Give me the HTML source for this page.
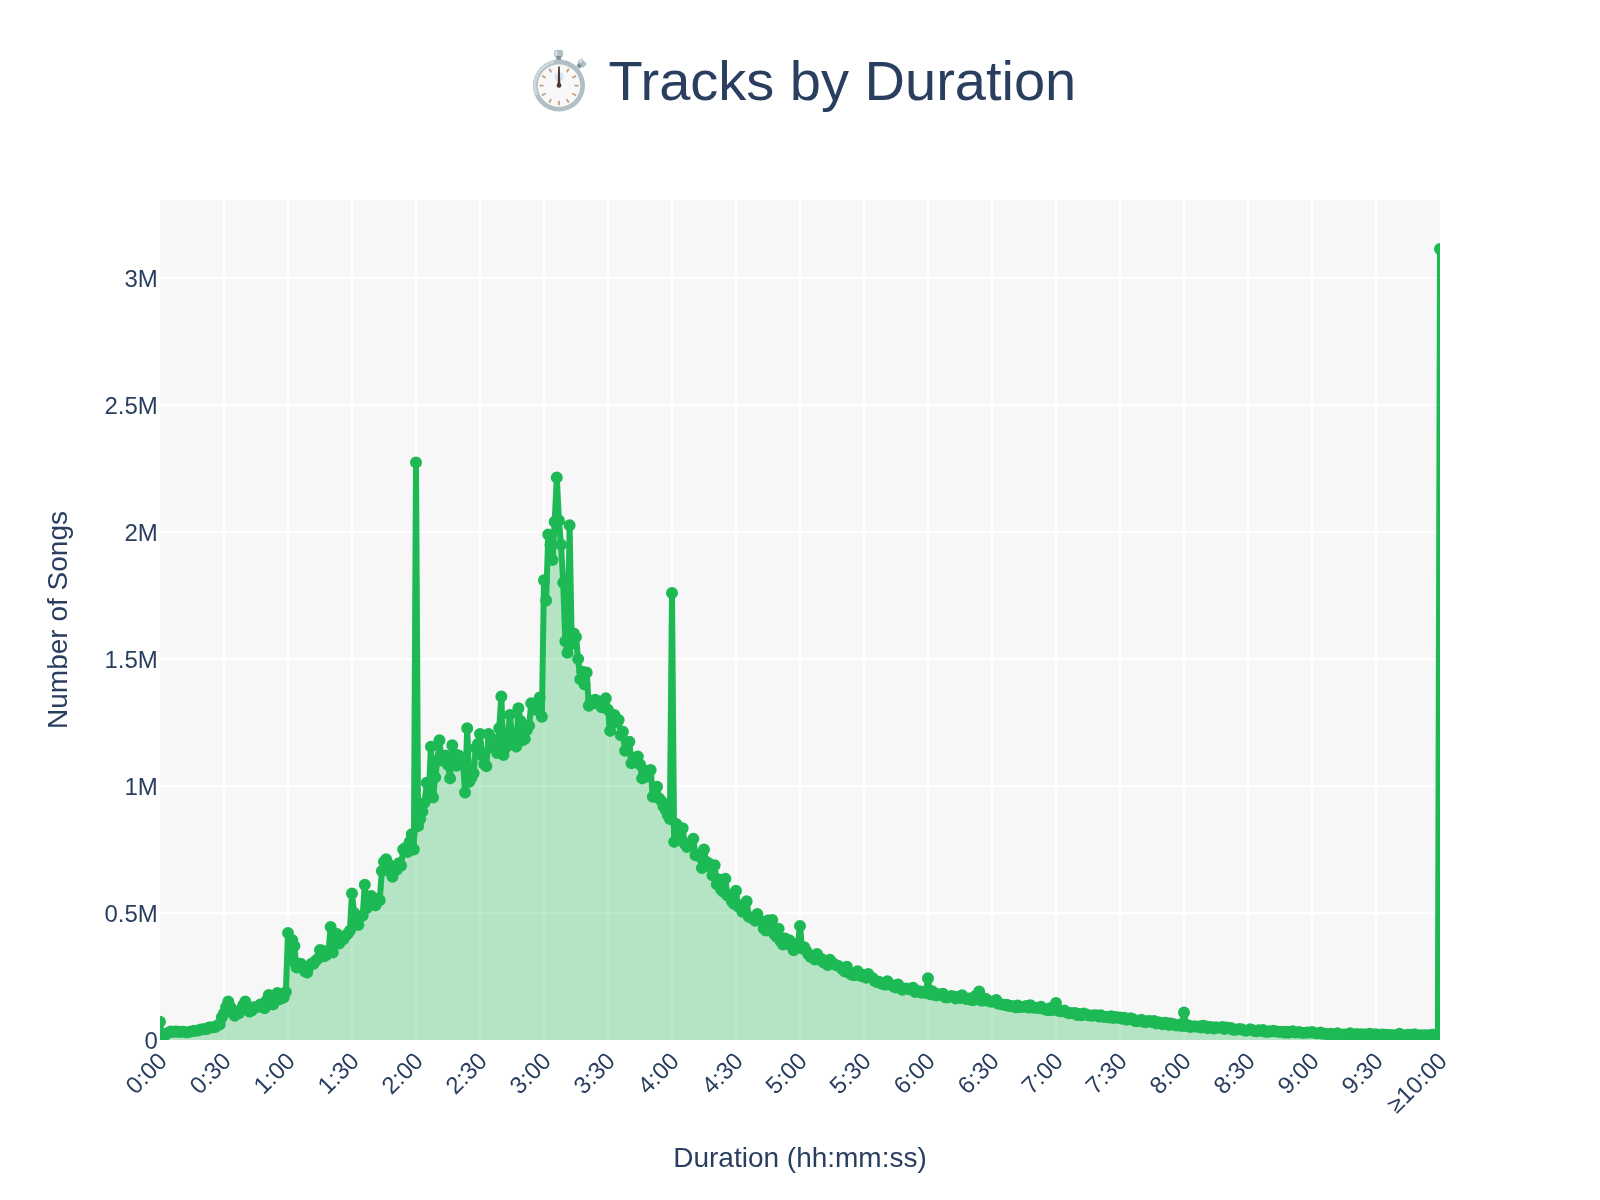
<!DOCTYPE html>
<html><head><meta charset="utf-8"><style>
html,body{margin:0;padding:0;background:#fff;}
svg{display:block;will-change:transform;}
text{font-family:"Liberation Sans", sans-serif;fill:#2a3f5f;}
.t{font-size:24px;}
.a{font-size:28px;}
.ti{font-size:56px;}
</style></head><body>
<svg width="1600" height="1200" viewBox="0 0 1600 1200">
<rect x="0" y="0" width="1600" height="1200" fill="#fff"/>
<rect x="160" y="200" width="1280" height="840" fill="#f7f7f7"/>
<path d="M224.0,200V1040M288.0,200V1040M352.0,200V1040M416.0,200V1040M480.0,200V1040M544.0,200V1040M608.0,200V1040M672.0,200V1040M736.0,200V1040M800.0,200V1040M864.0,200V1040M928.0,200V1040M992.0,200V1040M1056.0,200V1040M1120.0,200V1040M1184.0,200V1040M1248.0,200V1040M1312.0,200V1040M1376.0,200V1040M160,913.0H1440M160,786.0H1440M160,659.0H1440M160,532.0H1440M160,405.0H1440M160,278.0H1440" stroke="#fff" stroke-width="2" fill="none"/>
<defs><clipPath id="pc"><rect x="160" y="200" width="1280" height="840"/></clipPath></defs>
<g clip-path="url(#pc)">
<path d="M160.00,1021.71L162.13,1038.48L164.27,1035.94L166.40,1033.90L168.53,1032.39L170.67,1031.62L172.80,1032.09L174.93,1031.61L177.07,1031.59L179.20,1031.99L181.33,1031.87L183.47,1031.71L185.60,1032.25L187.73,1032.16L189.87,1031.87L192.00,1031.36L194.13,1030.70L196.27,1030.66L198.40,1030.44L200.53,1029.60L202.67,1029.33L204.80,1029.01L206.93,1028.89L209.07,1027.55L211.20,1027.31L213.33,1027.30L215.47,1027.02L217.60,1025.25L219.73,1024.51L221.87,1017.14L224.00,1013.33L226.13,1006.98L228.27,1001.39L230.40,1006.98L232.53,1011.36L234.67,1015.87L236.80,1013.65L238.93,1013.33L241.07,1009.52L243.20,1004.87L245.33,1001.39L247.47,1007.49L249.60,1011.55L251.73,1010.57L253.87,1007.28L256.00,1006.98L258.13,1006.68L260.27,1004.44L262.40,1006.55L264.53,1008.25L266.67,1000.56L268.80,995.04L270.93,1001.90L273.07,1004.44L275.20,999.61L277.33,993.01L279.47,999.36L281.60,998.50L283.73,997.58L285.87,991.99L288.00,933.07L290.13,959.99L292.27,939.92L294.40,946.02L296.53,967.61L298.67,963.67L300.80,963.80L302.93,966.75L305.07,971.42L307.20,972.44L309.33,966.34L311.47,963.63L313.60,963.80L315.73,960.83L317.87,958.72L320.00,950.08L322.13,950.55L324.27,956.18L326.40,954.91L328.53,951.10L330.67,926.97L332.80,952.62L334.93,941.57L337.07,934.08L339.20,943.48L341.33,939.52L343.47,939.16L345.60,935.76L347.73,933.83L349.87,930.78L352.00,893.44L354.13,913.00L356.27,919.37L358.40,924.94L360.53,917.13L362.67,915.54L364.80,884.81L366.93,907.92L369.07,897.88L371.20,895.98L373.33,897.82L375.47,905.38L377.60,901.34L379.73,900.30L381.87,871.09L384.00,861.74L386.13,859.15L388.27,863.91L390.40,872.36L392.53,876.68L394.67,869.83L396.80,869.82L398.93,863.28L401.07,865.76L403.20,849.50L405.33,847.93L407.47,852.04L409.60,841.88L411.73,834.26L413.87,849.50L416.00,462.40L418.13,826.13L420.27,819.02L422.40,811.40L424.53,802.76L426.67,782.70L428.80,793.62L430.93,746.63L433.07,797.43L435.20,777.36L437.33,760.60L439.47,740.28L441.60,760.60L443.73,760.03L445.87,755.52L448.00,765.06L450.13,778.38L452.27,745.36L454.40,753.98L456.53,765.68L458.67,755.52L460.80,762.43L462.93,760.60L465.07,792.60L467.20,728.34L469.33,781.68L471.47,777.84L473.60,773.30L475.73,747.90L477.87,743.95L480.00,733.93L482.13,755.52L484.27,764.36L486.40,766.19L488.53,733.93L490.67,737.53L492.80,747.90L494.93,747.99L497.07,752.98L499.20,728.18L501.33,696.59L503.47,755.01L505.60,747.41L507.73,735.20L509.87,714.88L512.00,735.20L514.13,741.91L516.27,746.63L518.40,708.28L520.53,720.88L522.67,740.28L524.80,739.04L526.93,730.12L529.07,725.80L531.20,703.20L533.33,704.89L535.47,709.80L537.60,703.25L539.73,697.61L541.87,716.66L544.00,580.26L546.13,600.58L548.27,534.54L550.40,544.70L552.53,559.94L554.67,521.84L556.80,477.39L558.93,520.57L561.07,544.70L563.20,582.80L565.33,641.22L567.47,652.65L569.60,525.14L571.73,643.76L573.87,633.60L576.00,636.90L578.13,659.00L580.27,679.32L582.40,671.70L584.53,684.40L586.67,672.46L588.80,705.74L590.93,700.96L593.07,703.20L595.20,699.77L597.33,702.18L599.47,701.39L601.60,707.26L603.73,704.84L605.87,698.37L608.00,709.80L610.13,730.88L612.27,723.66L614.40,714.88L616.53,718.71L618.67,719.96L620.80,735.20L622.93,731.64L625.07,750.69L627.20,742.74L629.33,741.80L631.47,763.14L633.60,757.68L635.73,760.60L637.87,756.54L640.00,764.49L642.13,778.38L644.27,777.53L646.40,770.76L648.53,772.83L650.67,770.00L652.80,796.67L654.93,794.15L657.07,786.76L659.20,798.45L661.33,800.94L663.47,806.32L665.60,809.82L667.73,814.96L669.87,819.02L672.00,592.96L674.13,841.88L676.27,824.10L678.40,826.64L680.53,839.62L682.67,828.25L684.80,843.99L686.93,846.96L689.07,845.85L691.20,842.40L693.33,838.77L695.47,855.18L697.60,855.52L699.73,856.57L701.87,868.04L704.00,849.43L706.13,861.63L708.27,862.95L710.40,866.78L712.53,875.26L714.67,865.18L716.80,884.29L718.93,879.46L721.07,889.58L723.20,891.88L725.33,878.81L727.47,895.39L729.60,895.26L731.73,900.95L733.87,903.67L736.00,890.78L738.13,906.61L740.27,905.65L742.40,911.69L744.53,904.26L746.67,901.31L748.80,916.70L750.93,917.73L753.07,918.88L755.20,920.84L757.33,914.10L759.47,920.30L761.60,921.12L763.73,928.42L765.87,930.40L768.00,920.55L770.13,928.85L772.27,920.11L774.40,934.19L776.53,936.78L778.67,928.68L780.80,941.42L782.93,944.48L785.07,938.58L787.20,944.05L789.33,940.23L791.47,946.04L793.60,950.33L795.73,946.49L797.87,943.93L800.00,925.95L802.13,948.56L804.27,947.19L806.40,951.09L808.53,954.40L810.67,956.99L812.80,957.30L814.93,959.56L817.07,953.96L819.20,959.28L821.33,958.83L823.47,962.51L825.60,962.53L827.73,964.95L829.87,959.67L832.00,962.47L834.13,964.08L836.27,965.22L838.40,966.04L840.53,967.33L842.67,969.39L844.80,971.47L846.93,966.82L849.07,972.34L851.20,974.58L853.33,975.30L855.47,974.92L857.60,971.18L859.73,974.68L861.87,976.25L864.00,975.11L866.13,977.85L868.27,974.00L870.40,977.21L872.53,978.07L874.67,980.92L876.80,982.12L878.93,981.83L881.07,983.44L883.20,984.22L885.33,984.87L887.47,981.14L889.60,984.12L891.73,985.03L893.87,986.78L896.00,987.42L898.13,984.51L900.27,987.44L902.40,989.72L904.53,988.64L906.67,988.41L908.80,989.14L910.93,989.63L913.07,987.74L915.20,991.90L917.33,991.49L919.47,991.13L921.60,992.67L923.73,991.86L925.87,993.01L928.00,978.28L930.13,994.28L932.27,991.32L934.40,995.11L936.53,995.38L938.67,994.27L940.80,995.12L942.93,993.68L945.07,997.20L947.20,997.42L949.33,996.82L951.47,996.05L953.60,996.55L955.73,998.48L957.87,997.01L960.00,998.09L962.13,995.26L964.27,998.01L966.40,998.95L968.53,998.60L970.67,999.82L972.80,1000.28L974.93,996.29L977.07,999.36L979.20,991.49L981.33,1000.63L983.47,1000.45L985.60,998.67L987.73,1000.14L989.87,1001.61L992.00,1001.65L994.13,1001.16L996.27,1000.02L998.40,1003.75L1000.53,1004.11L1002.67,1004.46L1004.80,1005.05L1006.93,1004.63L1009.07,1005.91L1011.20,1005.97L1013.33,1006.22L1015.47,1007.31L1017.60,1005.48L1019.73,1007.05L1021.87,1006.93L1024.00,1006.77L1026.13,1006.11L1028.27,1007.49L1030.40,1005.16L1032.53,1007.59L1034.67,1007.74L1036.80,1007.86L1038.93,1008.08L1041.07,1006.80L1043.20,1008.68L1045.33,1009.53L1047.47,1010.19L1049.60,1008.36L1051.73,1010.15L1053.87,1009.52L1056.00,1002.92L1058.13,1010.79L1060.27,1011.30L1062.40,1011.11L1064.53,1010.41L1066.67,1012.57L1068.80,1013.29L1070.93,1013.08L1073.07,1013.26L1075.20,1012.95L1077.33,1014.95L1079.47,1014.08L1081.60,1015.15L1083.73,1013.41L1085.87,1014.37L1088.00,1015.32L1090.13,1015.62L1092.27,1015.66L1094.40,1015.36L1096.53,1015.18L1098.67,1016.57L1100.80,1015.17L1102.93,1016.82L1105.07,1017.01L1107.20,1016.75L1109.33,1017.57L1111.47,1016.29L1113.60,1017.91L1115.73,1016.93L1117.87,1017.75L1120.00,1017.50L1122.13,1018.66L1124.27,1017.78L1126.40,1019.75L1128.53,1019.22L1130.67,1018.17L1132.80,1018.98L1134.93,1021.00L1137.07,1021.28L1139.20,1020.70L1141.33,1019.83L1143.47,1021.68L1145.60,1022.34L1147.73,1021.06L1149.87,1021.01L1152.00,1021.97L1154.13,1021.03L1156.27,1023.44L1158.40,1022.32L1160.53,1022.76L1162.67,1024.37L1164.80,1022.79L1166.93,1022.88L1169.07,1025.08L1171.20,1023.52L1173.33,1023.99L1175.47,1025.27L1177.60,1025.55L1179.73,1024.53L1181.87,1026.03L1184.00,1012.57L1186.13,1026.03L1188.27,1025.27L1190.40,1027.06L1192.53,1026.46L1194.67,1026.33L1196.80,1026.86L1198.93,1026.54L1201.07,1027.41L1203.20,1025.79L1205.33,1026.26L1207.47,1028.14L1209.60,1026.88L1211.73,1027.26L1213.87,1028.43L1216.00,1027.30L1218.13,1027.86L1220.27,1027.51L1222.40,1026.96L1224.53,1029.04L1226.67,1027.55L1228.80,1028.15L1230.93,1028.06L1233.07,1029.82L1235.20,1029.76L1237.33,1029.59L1239.47,1028.88L1241.60,1029.37L1243.73,1030.32L1245.87,1030.66L1248.00,1030.31L1250.13,1029.13L1252.27,1029.94L1254.40,1030.92L1256.53,1031.20L1258.67,1030.17L1260.80,1030.81L1262.93,1029.94L1265.07,1031.74L1267.20,1031.89L1269.33,1031.14L1271.47,1031.62L1273.60,1030.79L1275.73,1031.18L1277.87,1031.70L1280.00,1032.00L1282.13,1031.67L1284.27,1032.63L1286.40,1031.71L1288.53,1032.75L1290.67,1031.81L1292.80,1031.32L1294.93,1032.57L1297.07,1032.36L1299.20,1031.96L1301.33,1032.81L1303.47,1033.02L1305.60,1032.63L1307.73,1032.39L1309.87,1032.54L1312.00,1032.00L1314.13,1032.86L1316.27,1033.15L1318.40,1033.14L1320.53,1032.48L1322.67,1033.80L1324.80,1033.85L1326.93,1034.03L1329.07,1034.01L1331.20,1033.79L1333.33,1034.27L1335.47,1034.10L1337.60,1033.25L1339.73,1034.31L1341.87,1034.65L1344.00,1034.47L1346.13,1034.71L1348.27,1034.09L1350.40,1033.30L1352.53,1034.65L1354.67,1034.42L1356.80,1034.04L1358.93,1034.81L1361.07,1034.22L1363.20,1034.59L1365.33,1034.57L1367.47,1034.31L1369.60,1033.66L1371.73,1034.66L1373.87,1034.54L1376.00,1034.32L1378.13,1034.89L1380.27,1034.79L1382.40,1034.53L1384.53,1034.65L1386.67,1034.73L1388.80,1034.94L1390.93,1035.00L1393.07,1035.26L1395.20,1035.21L1397.33,1035.27L1399.47,1033.83L1401.60,1035.16L1403.73,1035.25L1405.87,1035.32L1408.00,1034.74L1410.13,1034.73L1412.27,1034.91L1414.40,1034.13L1416.53,1035.28L1418.67,1035.25L1420.80,1035.14L1422.93,1035.39L1425.07,1035.18L1427.20,1035.34L1429.33,1035.17L1431.47,1034.82L1433.60,1034.81L1435.73,1035.14L1437.87,1035.17L1440.00,249.04L1440.00,1040.00L160.00,1040.00Z" fill="rgba(29,185,84,0.3)" stroke="none"/>
<path d="M160.00,1021.71L162.13,1038.48L164.27,1035.94L166.40,1033.90L168.53,1032.39L170.67,1031.62L172.80,1032.09L174.93,1031.61L177.07,1031.59L179.20,1031.99L181.33,1031.87L183.47,1031.71L185.60,1032.25L187.73,1032.16L189.87,1031.87L192.00,1031.36L194.13,1030.70L196.27,1030.66L198.40,1030.44L200.53,1029.60L202.67,1029.33L204.80,1029.01L206.93,1028.89L209.07,1027.55L211.20,1027.31L213.33,1027.30L215.47,1027.02L217.60,1025.25L219.73,1024.51L221.87,1017.14L224.00,1013.33L226.13,1006.98L228.27,1001.39L230.40,1006.98L232.53,1011.36L234.67,1015.87L236.80,1013.65L238.93,1013.33L241.07,1009.52L243.20,1004.87L245.33,1001.39L247.47,1007.49L249.60,1011.55L251.73,1010.57L253.87,1007.28L256.00,1006.98L258.13,1006.68L260.27,1004.44L262.40,1006.55L264.53,1008.25L266.67,1000.56L268.80,995.04L270.93,1001.90L273.07,1004.44L275.20,999.61L277.33,993.01L279.47,999.36L281.60,998.50L283.73,997.58L285.87,991.99L288.00,933.07L290.13,959.99L292.27,939.92L294.40,946.02L296.53,967.61L298.67,963.67L300.80,963.80L302.93,966.75L305.07,971.42L307.20,972.44L309.33,966.34L311.47,963.63L313.60,963.80L315.73,960.83L317.87,958.72L320.00,950.08L322.13,950.55L324.27,956.18L326.40,954.91L328.53,951.10L330.67,926.97L332.80,952.62L334.93,941.57L337.07,934.08L339.20,943.48L341.33,939.52L343.47,939.16L345.60,935.76L347.73,933.83L349.87,930.78L352.00,893.44L354.13,913.00L356.27,919.37L358.40,924.94L360.53,917.13L362.67,915.54L364.80,884.81L366.93,907.92L369.07,897.88L371.20,895.98L373.33,897.82L375.47,905.38L377.60,901.34L379.73,900.30L381.87,871.09L384.00,861.74L386.13,859.15L388.27,863.91L390.40,872.36L392.53,876.68L394.67,869.83L396.80,869.82L398.93,863.28L401.07,865.76L403.20,849.50L405.33,847.93L407.47,852.04L409.60,841.88L411.73,834.26L413.87,849.50L416.00,462.40L418.13,826.13L420.27,819.02L422.40,811.40L424.53,802.76L426.67,782.70L428.80,793.62L430.93,746.63L433.07,797.43L435.20,777.36L437.33,760.60L439.47,740.28L441.60,760.60L443.73,760.03L445.87,755.52L448.00,765.06L450.13,778.38L452.27,745.36L454.40,753.98L456.53,765.68L458.67,755.52L460.80,762.43L462.93,760.60L465.07,792.60L467.20,728.34L469.33,781.68L471.47,777.84L473.60,773.30L475.73,747.90L477.87,743.95L480.00,733.93L482.13,755.52L484.27,764.36L486.40,766.19L488.53,733.93L490.67,737.53L492.80,747.90L494.93,747.99L497.07,752.98L499.20,728.18L501.33,696.59L503.47,755.01L505.60,747.41L507.73,735.20L509.87,714.88L512.00,735.20L514.13,741.91L516.27,746.63L518.40,708.28L520.53,720.88L522.67,740.28L524.80,739.04L526.93,730.12L529.07,725.80L531.20,703.20L533.33,704.89L535.47,709.80L537.60,703.25L539.73,697.61L541.87,716.66L544.00,580.26L546.13,600.58L548.27,534.54L550.40,544.70L552.53,559.94L554.67,521.84L556.80,477.39L558.93,520.57L561.07,544.70L563.20,582.80L565.33,641.22L567.47,652.65L569.60,525.14L571.73,643.76L573.87,633.60L576.00,636.90L578.13,659.00L580.27,679.32L582.40,671.70L584.53,684.40L586.67,672.46L588.80,705.74L590.93,700.96L593.07,703.20L595.20,699.77L597.33,702.18L599.47,701.39L601.60,707.26L603.73,704.84L605.87,698.37L608.00,709.80L610.13,730.88L612.27,723.66L614.40,714.88L616.53,718.71L618.67,719.96L620.80,735.20L622.93,731.64L625.07,750.69L627.20,742.74L629.33,741.80L631.47,763.14L633.60,757.68L635.73,760.60L637.87,756.54L640.00,764.49L642.13,778.38L644.27,777.53L646.40,770.76L648.53,772.83L650.67,770.00L652.80,796.67L654.93,794.15L657.07,786.76L659.20,798.45L661.33,800.94L663.47,806.32L665.60,809.82L667.73,814.96L669.87,819.02L672.00,592.96L674.13,841.88L676.27,824.10L678.40,826.64L680.53,839.62L682.67,828.25L684.80,843.99L686.93,846.96L689.07,845.85L691.20,842.40L693.33,838.77L695.47,855.18L697.60,855.52L699.73,856.57L701.87,868.04L704.00,849.43L706.13,861.63L708.27,862.95L710.40,866.78L712.53,875.26L714.67,865.18L716.80,884.29L718.93,879.46L721.07,889.58L723.20,891.88L725.33,878.81L727.47,895.39L729.60,895.26L731.73,900.95L733.87,903.67L736.00,890.78L738.13,906.61L740.27,905.65L742.40,911.69L744.53,904.26L746.67,901.31L748.80,916.70L750.93,917.73L753.07,918.88L755.20,920.84L757.33,914.10L759.47,920.30L761.60,921.12L763.73,928.42L765.87,930.40L768.00,920.55L770.13,928.85L772.27,920.11L774.40,934.19L776.53,936.78L778.67,928.68L780.80,941.42L782.93,944.48L785.07,938.58L787.20,944.05L789.33,940.23L791.47,946.04L793.60,950.33L795.73,946.49L797.87,943.93L800.00,925.95L802.13,948.56L804.27,947.19L806.40,951.09L808.53,954.40L810.67,956.99L812.80,957.30L814.93,959.56L817.07,953.96L819.20,959.28L821.33,958.83L823.47,962.51L825.60,962.53L827.73,964.95L829.87,959.67L832.00,962.47L834.13,964.08L836.27,965.22L838.40,966.04L840.53,967.33L842.67,969.39L844.80,971.47L846.93,966.82L849.07,972.34L851.20,974.58L853.33,975.30L855.47,974.92L857.60,971.18L859.73,974.68L861.87,976.25L864.00,975.11L866.13,977.85L868.27,974.00L870.40,977.21L872.53,978.07L874.67,980.92L876.80,982.12L878.93,981.83L881.07,983.44L883.20,984.22L885.33,984.87L887.47,981.14L889.60,984.12L891.73,985.03L893.87,986.78L896.00,987.42L898.13,984.51L900.27,987.44L902.40,989.72L904.53,988.64L906.67,988.41L908.80,989.14L910.93,989.63L913.07,987.74L915.20,991.90L917.33,991.49L919.47,991.13L921.60,992.67L923.73,991.86L925.87,993.01L928.00,978.28L930.13,994.28L932.27,991.32L934.40,995.11L936.53,995.38L938.67,994.27L940.80,995.12L942.93,993.68L945.07,997.20L947.20,997.42L949.33,996.82L951.47,996.05L953.60,996.55L955.73,998.48L957.87,997.01L960.00,998.09L962.13,995.26L964.27,998.01L966.40,998.95L968.53,998.60L970.67,999.82L972.80,1000.28L974.93,996.29L977.07,999.36L979.20,991.49L981.33,1000.63L983.47,1000.45L985.60,998.67L987.73,1000.14L989.87,1001.61L992.00,1001.65L994.13,1001.16L996.27,1000.02L998.40,1003.75L1000.53,1004.11L1002.67,1004.46L1004.80,1005.05L1006.93,1004.63L1009.07,1005.91L1011.20,1005.97L1013.33,1006.22L1015.47,1007.31L1017.60,1005.48L1019.73,1007.05L1021.87,1006.93L1024.00,1006.77L1026.13,1006.11L1028.27,1007.49L1030.40,1005.16L1032.53,1007.59L1034.67,1007.74L1036.80,1007.86L1038.93,1008.08L1041.07,1006.80L1043.20,1008.68L1045.33,1009.53L1047.47,1010.19L1049.60,1008.36L1051.73,1010.15L1053.87,1009.52L1056.00,1002.92L1058.13,1010.79L1060.27,1011.30L1062.40,1011.11L1064.53,1010.41L1066.67,1012.57L1068.80,1013.29L1070.93,1013.08L1073.07,1013.26L1075.20,1012.95L1077.33,1014.95L1079.47,1014.08L1081.60,1015.15L1083.73,1013.41L1085.87,1014.37L1088.00,1015.32L1090.13,1015.62L1092.27,1015.66L1094.40,1015.36L1096.53,1015.18L1098.67,1016.57L1100.80,1015.17L1102.93,1016.82L1105.07,1017.01L1107.20,1016.75L1109.33,1017.57L1111.47,1016.29L1113.60,1017.91L1115.73,1016.93L1117.87,1017.75L1120.00,1017.50L1122.13,1018.66L1124.27,1017.78L1126.40,1019.75L1128.53,1019.22L1130.67,1018.17L1132.80,1018.98L1134.93,1021.00L1137.07,1021.28L1139.20,1020.70L1141.33,1019.83L1143.47,1021.68L1145.60,1022.34L1147.73,1021.06L1149.87,1021.01L1152.00,1021.97L1154.13,1021.03L1156.27,1023.44L1158.40,1022.32L1160.53,1022.76L1162.67,1024.37L1164.80,1022.79L1166.93,1022.88L1169.07,1025.08L1171.20,1023.52L1173.33,1023.99L1175.47,1025.27L1177.60,1025.55L1179.73,1024.53L1181.87,1026.03L1184.00,1012.57L1186.13,1026.03L1188.27,1025.27L1190.40,1027.06L1192.53,1026.46L1194.67,1026.33L1196.80,1026.86L1198.93,1026.54L1201.07,1027.41L1203.20,1025.79L1205.33,1026.26L1207.47,1028.14L1209.60,1026.88L1211.73,1027.26L1213.87,1028.43L1216.00,1027.30L1218.13,1027.86L1220.27,1027.51L1222.40,1026.96L1224.53,1029.04L1226.67,1027.55L1228.80,1028.15L1230.93,1028.06L1233.07,1029.82L1235.20,1029.76L1237.33,1029.59L1239.47,1028.88L1241.60,1029.37L1243.73,1030.32L1245.87,1030.66L1248.00,1030.31L1250.13,1029.13L1252.27,1029.94L1254.40,1030.92L1256.53,1031.20L1258.67,1030.17L1260.80,1030.81L1262.93,1029.94L1265.07,1031.74L1267.20,1031.89L1269.33,1031.14L1271.47,1031.62L1273.60,1030.79L1275.73,1031.18L1277.87,1031.70L1280.00,1032.00L1282.13,1031.67L1284.27,1032.63L1286.40,1031.71L1288.53,1032.75L1290.67,1031.81L1292.80,1031.32L1294.93,1032.57L1297.07,1032.36L1299.20,1031.96L1301.33,1032.81L1303.47,1033.02L1305.60,1032.63L1307.73,1032.39L1309.87,1032.54L1312.00,1032.00L1314.13,1032.86L1316.27,1033.15L1318.40,1033.14L1320.53,1032.48L1322.67,1033.80L1324.80,1033.85L1326.93,1034.03L1329.07,1034.01L1331.20,1033.79L1333.33,1034.27L1335.47,1034.10L1337.60,1033.25L1339.73,1034.31L1341.87,1034.65L1344.00,1034.47L1346.13,1034.71L1348.27,1034.09L1350.40,1033.30L1352.53,1034.65L1354.67,1034.42L1356.80,1034.04L1358.93,1034.81L1361.07,1034.22L1363.20,1034.59L1365.33,1034.57L1367.47,1034.31L1369.60,1033.66L1371.73,1034.66L1373.87,1034.54L1376.00,1034.32L1378.13,1034.89L1380.27,1034.79L1382.40,1034.53L1384.53,1034.65L1386.67,1034.73L1388.80,1034.94L1390.93,1035.00L1393.07,1035.26L1395.20,1035.21L1397.33,1035.27L1399.47,1033.83L1401.60,1035.16L1403.73,1035.25L1405.87,1035.32L1408.00,1034.74L1410.13,1034.73L1412.27,1034.91L1414.40,1034.13L1416.53,1035.28L1418.67,1035.25L1420.80,1035.14L1422.93,1035.39L1425.07,1035.18L1427.20,1035.34L1429.33,1035.17L1431.47,1034.82L1433.60,1034.81L1435.73,1035.14L1437.87,1035.17L1440.00,249.04" fill="none" stroke="#1db954" stroke-width="6" stroke-linejoin="round"/>
<path d="M154.00,1021.71a6,6 0 1,0 12,0a6,6 0 1,0 -12,0ZM156.13,1038.48a6,6 0 1,0 12,0a6,6 0 1,0 -12,0ZM158.27,1035.94a6,6 0 1,0 12,0a6,6 0 1,0 -12,0ZM160.40,1033.90a6,6 0 1,0 12,0a6,6 0 1,0 -12,0ZM162.53,1032.39a6,6 0 1,0 12,0a6,6 0 1,0 -12,0ZM164.67,1031.62a6,6 0 1,0 12,0a6,6 0 1,0 -12,0ZM166.80,1032.09a6,6 0 1,0 12,0a6,6 0 1,0 -12,0ZM168.93,1031.61a6,6 0 1,0 12,0a6,6 0 1,0 -12,0ZM171.07,1031.59a6,6 0 1,0 12,0a6,6 0 1,0 -12,0ZM173.20,1031.99a6,6 0 1,0 12,0a6,6 0 1,0 -12,0ZM175.33,1031.87a6,6 0 1,0 12,0a6,6 0 1,0 -12,0ZM177.47,1031.71a6,6 0 1,0 12,0a6,6 0 1,0 -12,0ZM179.60,1032.25a6,6 0 1,0 12,0a6,6 0 1,0 -12,0ZM181.73,1032.16a6,6 0 1,0 12,0a6,6 0 1,0 -12,0ZM183.87,1031.87a6,6 0 1,0 12,0a6,6 0 1,0 -12,0ZM186.00,1031.36a6,6 0 1,0 12,0a6,6 0 1,0 -12,0ZM188.13,1030.70a6,6 0 1,0 12,0a6,6 0 1,0 -12,0ZM190.27,1030.66a6,6 0 1,0 12,0a6,6 0 1,0 -12,0ZM192.40,1030.44a6,6 0 1,0 12,0a6,6 0 1,0 -12,0ZM194.53,1029.60a6,6 0 1,0 12,0a6,6 0 1,0 -12,0ZM196.67,1029.33a6,6 0 1,0 12,0a6,6 0 1,0 -12,0ZM198.80,1029.01a6,6 0 1,0 12,0a6,6 0 1,0 -12,0ZM200.93,1028.89a6,6 0 1,0 12,0a6,6 0 1,0 -12,0ZM203.07,1027.55a6,6 0 1,0 12,0a6,6 0 1,0 -12,0ZM205.20,1027.31a6,6 0 1,0 12,0a6,6 0 1,0 -12,0ZM207.33,1027.30a6,6 0 1,0 12,0a6,6 0 1,0 -12,0ZM209.47,1027.02a6,6 0 1,0 12,0a6,6 0 1,0 -12,0ZM211.60,1025.25a6,6 0 1,0 12,0a6,6 0 1,0 -12,0ZM213.73,1024.51a6,6 0 1,0 12,0a6,6 0 1,0 -12,0ZM215.87,1017.14a6,6 0 1,0 12,0a6,6 0 1,0 -12,0ZM218.00,1013.33a6,6 0 1,0 12,0a6,6 0 1,0 -12,0ZM220.13,1006.98a6,6 0 1,0 12,0a6,6 0 1,0 -12,0ZM222.27,1001.39a6,6 0 1,0 12,0a6,6 0 1,0 -12,0ZM224.40,1006.98a6,6 0 1,0 12,0a6,6 0 1,0 -12,0ZM226.53,1011.36a6,6 0 1,0 12,0a6,6 0 1,0 -12,0ZM228.67,1015.87a6,6 0 1,0 12,0a6,6 0 1,0 -12,0ZM230.80,1013.65a6,6 0 1,0 12,0a6,6 0 1,0 -12,0ZM232.93,1013.33a6,6 0 1,0 12,0a6,6 0 1,0 -12,0ZM235.07,1009.52a6,6 0 1,0 12,0a6,6 0 1,0 -12,0ZM237.20,1004.87a6,6 0 1,0 12,0a6,6 0 1,0 -12,0ZM239.33,1001.39a6,6 0 1,0 12,0a6,6 0 1,0 -12,0ZM241.47,1007.49a6,6 0 1,0 12,0a6,6 0 1,0 -12,0ZM243.60,1011.55a6,6 0 1,0 12,0a6,6 0 1,0 -12,0ZM245.73,1010.57a6,6 0 1,0 12,0a6,6 0 1,0 -12,0ZM247.87,1007.28a6,6 0 1,0 12,0a6,6 0 1,0 -12,0ZM250.00,1006.98a6,6 0 1,0 12,0a6,6 0 1,0 -12,0ZM252.13,1006.68a6,6 0 1,0 12,0a6,6 0 1,0 -12,0ZM254.27,1004.44a6,6 0 1,0 12,0a6,6 0 1,0 -12,0ZM256.40,1006.55a6,6 0 1,0 12,0a6,6 0 1,0 -12,0ZM258.53,1008.25a6,6 0 1,0 12,0a6,6 0 1,0 -12,0ZM260.67,1000.56a6,6 0 1,0 12,0a6,6 0 1,0 -12,0ZM262.80,995.04a6,6 0 1,0 12,0a6,6 0 1,0 -12,0ZM264.93,1001.90a6,6 0 1,0 12,0a6,6 0 1,0 -12,0ZM267.07,1004.44a6,6 0 1,0 12,0a6,6 0 1,0 -12,0ZM269.20,999.61a6,6 0 1,0 12,0a6,6 0 1,0 -12,0ZM271.33,993.01a6,6 0 1,0 12,0a6,6 0 1,0 -12,0ZM273.47,999.36a6,6 0 1,0 12,0a6,6 0 1,0 -12,0ZM275.60,998.50a6,6 0 1,0 12,0a6,6 0 1,0 -12,0ZM277.73,997.58a6,6 0 1,0 12,0a6,6 0 1,0 -12,0ZM279.87,991.99a6,6 0 1,0 12,0a6,6 0 1,0 -12,0ZM282.00,933.07a6,6 0 1,0 12,0a6,6 0 1,0 -12,0ZM284.13,959.99a6,6 0 1,0 12,0a6,6 0 1,0 -12,0ZM286.27,939.92a6,6 0 1,0 12,0a6,6 0 1,0 -12,0ZM288.40,946.02a6,6 0 1,0 12,0a6,6 0 1,0 -12,0ZM290.53,967.61a6,6 0 1,0 12,0a6,6 0 1,0 -12,0ZM292.67,963.67a6,6 0 1,0 12,0a6,6 0 1,0 -12,0ZM294.80,963.80a6,6 0 1,0 12,0a6,6 0 1,0 -12,0ZM296.93,966.75a6,6 0 1,0 12,0a6,6 0 1,0 -12,0ZM299.07,971.42a6,6 0 1,0 12,0a6,6 0 1,0 -12,0ZM301.20,972.44a6,6 0 1,0 12,0a6,6 0 1,0 -12,0ZM303.33,966.34a6,6 0 1,0 12,0a6,6 0 1,0 -12,0ZM305.47,963.63a6,6 0 1,0 12,0a6,6 0 1,0 -12,0ZM307.60,963.80a6,6 0 1,0 12,0a6,6 0 1,0 -12,0ZM309.73,960.83a6,6 0 1,0 12,0a6,6 0 1,0 -12,0ZM311.87,958.72a6,6 0 1,0 12,0a6,6 0 1,0 -12,0ZM314.00,950.08a6,6 0 1,0 12,0a6,6 0 1,0 -12,0ZM316.13,950.55a6,6 0 1,0 12,0a6,6 0 1,0 -12,0ZM318.27,956.18a6,6 0 1,0 12,0a6,6 0 1,0 -12,0ZM320.40,954.91a6,6 0 1,0 12,0a6,6 0 1,0 -12,0ZM322.53,951.10a6,6 0 1,0 12,0a6,6 0 1,0 -12,0ZM324.67,926.97a6,6 0 1,0 12,0a6,6 0 1,0 -12,0ZM326.80,952.62a6,6 0 1,0 12,0a6,6 0 1,0 -12,0ZM328.93,941.57a6,6 0 1,0 12,0a6,6 0 1,0 -12,0ZM331.07,934.08a6,6 0 1,0 12,0a6,6 0 1,0 -12,0ZM333.20,943.48a6,6 0 1,0 12,0a6,6 0 1,0 -12,0ZM335.33,939.52a6,6 0 1,0 12,0a6,6 0 1,0 -12,0ZM337.47,939.16a6,6 0 1,0 12,0a6,6 0 1,0 -12,0ZM339.60,935.76a6,6 0 1,0 12,0a6,6 0 1,0 -12,0ZM341.73,933.83a6,6 0 1,0 12,0a6,6 0 1,0 -12,0ZM343.87,930.78a6,6 0 1,0 12,0a6,6 0 1,0 -12,0ZM346.00,893.44a6,6 0 1,0 12,0a6,6 0 1,0 -12,0ZM348.13,913.00a6,6 0 1,0 12,0a6,6 0 1,0 -12,0ZM350.27,919.37a6,6 0 1,0 12,0a6,6 0 1,0 -12,0ZM352.40,924.94a6,6 0 1,0 12,0a6,6 0 1,0 -12,0ZM354.53,917.13a6,6 0 1,0 12,0a6,6 0 1,0 -12,0ZM356.67,915.54a6,6 0 1,0 12,0a6,6 0 1,0 -12,0ZM358.80,884.81a6,6 0 1,0 12,0a6,6 0 1,0 -12,0ZM360.93,907.92a6,6 0 1,0 12,0a6,6 0 1,0 -12,0ZM363.07,897.88a6,6 0 1,0 12,0a6,6 0 1,0 -12,0ZM365.20,895.98a6,6 0 1,0 12,0a6,6 0 1,0 -12,0ZM367.33,897.82a6,6 0 1,0 12,0a6,6 0 1,0 -12,0ZM369.47,905.38a6,6 0 1,0 12,0a6,6 0 1,0 -12,0ZM371.60,901.34a6,6 0 1,0 12,0a6,6 0 1,0 -12,0ZM373.73,900.30a6,6 0 1,0 12,0a6,6 0 1,0 -12,0ZM375.87,871.09a6,6 0 1,0 12,0a6,6 0 1,0 -12,0ZM378.00,861.74a6,6 0 1,0 12,0a6,6 0 1,0 -12,0ZM380.13,859.15a6,6 0 1,0 12,0a6,6 0 1,0 -12,0ZM382.27,863.91a6,6 0 1,0 12,0a6,6 0 1,0 -12,0ZM384.40,872.36a6,6 0 1,0 12,0a6,6 0 1,0 -12,0ZM386.53,876.68a6,6 0 1,0 12,0a6,6 0 1,0 -12,0ZM388.67,869.83a6,6 0 1,0 12,0a6,6 0 1,0 -12,0ZM390.80,869.82a6,6 0 1,0 12,0a6,6 0 1,0 -12,0ZM392.93,863.28a6,6 0 1,0 12,0a6,6 0 1,0 -12,0ZM395.07,865.76a6,6 0 1,0 12,0a6,6 0 1,0 -12,0ZM397.20,849.50a6,6 0 1,0 12,0a6,6 0 1,0 -12,0ZM399.33,847.93a6,6 0 1,0 12,0a6,6 0 1,0 -12,0ZM401.47,852.04a6,6 0 1,0 12,0a6,6 0 1,0 -12,0ZM403.60,841.88a6,6 0 1,0 12,0a6,6 0 1,0 -12,0ZM405.73,834.26a6,6 0 1,0 12,0a6,6 0 1,0 -12,0ZM407.87,849.50a6,6 0 1,0 12,0a6,6 0 1,0 -12,0ZM410.00,462.40a6,6 0 1,0 12,0a6,6 0 1,0 -12,0ZM412.13,826.13a6,6 0 1,0 12,0a6,6 0 1,0 -12,0ZM414.27,819.02a6,6 0 1,0 12,0a6,6 0 1,0 -12,0ZM416.40,811.40a6,6 0 1,0 12,0a6,6 0 1,0 -12,0ZM418.53,802.76a6,6 0 1,0 12,0a6,6 0 1,0 -12,0ZM420.67,782.70a6,6 0 1,0 12,0a6,6 0 1,0 -12,0ZM422.80,793.62a6,6 0 1,0 12,0a6,6 0 1,0 -12,0ZM424.93,746.63a6,6 0 1,0 12,0a6,6 0 1,0 -12,0ZM427.07,797.43a6,6 0 1,0 12,0a6,6 0 1,0 -12,0ZM429.20,777.36a6,6 0 1,0 12,0a6,6 0 1,0 -12,0ZM431.33,760.60a6,6 0 1,0 12,0a6,6 0 1,0 -12,0ZM433.47,740.28a6,6 0 1,0 12,0a6,6 0 1,0 -12,0ZM435.60,760.60a6,6 0 1,0 12,0a6,6 0 1,0 -12,0ZM437.73,760.03a6,6 0 1,0 12,0a6,6 0 1,0 -12,0ZM439.87,755.52a6,6 0 1,0 12,0a6,6 0 1,0 -12,0ZM442.00,765.06a6,6 0 1,0 12,0a6,6 0 1,0 -12,0ZM444.13,778.38a6,6 0 1,0 12,0a6,6 0 1,0 -12,0ZM446.27,745.36a6,6 0 1,0 12,0a6,6 0 1,0 -12,0ZM448.40,753.98a6,6 0 1,0 12,0a6,6 0 1,0 -12,0ZM450.53,765.68a6,6 0 1,0 12,0a6,6 0 1,0 -12,0ZM452.67,755.52a6,6 0 1,0 12,0a6,6 0 1,0 -12,0ZM454.80,762.43a6,6 0 1,0 12,0a6,6 0 1,0 -12,0ZM456.93,760.60a6,6 0 1,0 12,0a6,6 0 1,0 -12,0ZM459.07,792.60a6,6 0 1,0 12,0a6,6 0 1,0 -12,0ZM461.20,728.34a6,6 0 1,0 12,0a6,6 0 1,0 -12,0ZM463.33,781.68a6,6 0 1,0 12,0a6,6 0 1,0 -12,0ZM465.47,777.84a6,6 0 1,0 12,0a6,6 0 1,0 -12,0ZM467.60,773.30a6,6 0 1,0 12,0a6,6 0 1,0 -12,0ZM469.73,747.90a6,6 0 1,0 12,0a6,6 0 1,0 -12,0ZM471.87,743.95a6,6 0 1,0 12,0a6,6 0 1,0 -12,0ZM474.00,733.93a6,6 0 1,0 12,0a6,6 0 1,0 -12,0ZM476.13,755.52a6,6 0 1,0 12,0a6,6 0 1,0 -12,0ZM478.27,764.36a6,6 0 1,0 12,0a6,6 0 1,0 -12,0ZM480.40,766.19a6,6 0 1,0 12,0a6,6 0 1,0 -12,0ZM482.53,733.93a6,6 0 1,0 12,0a6,6 0 1,0 -12,0ZM484.67,737.53a6,6 0 1,0 12,0a6,6 0 1,0 -12,0ZM486.80,747.90a6,6 0 1,0 12,0a6,6 0 1,0 -12,0ZM488.93,747.99a6,6 0 1,0 12,0a6,6 0 1,0 -12,0ZM491.07,752.98a6,6 0 1,0 12,0a6,6 0 1,0 -12,0ZM493.20,728.18a6,6 0 1,0 12,0a6,6 0 1,0 -12,0ZM495.33,696.59a6,6 0 1,0 12,0a6,6 0 1,0 -12,0ZM497.47,755.01a6,6 0 1,0 12,0a6,6 0 1,0 -12,0ZM499.60,747.41a6,6 0 1,0 12,0a6,6 0 1,0 -12,0ZM501.73,735.20a6,6 0 1,0 12,0a6,6 0 1,0 -12,0ZM503.87,714.88a6,6 0 1,0 12,0a6,6 0 1,0 -12,0ZM506.00,735.20a6,6 0 1,0 12,0a6,6 0 1,0 -12,0ZM508.13,741.91a6,6 0 1,0 12,0a6,6 0 1,0 -12,0ZM510.27,746.63a6,6 0 1,0 12,0a6,6 0 1,0 -12,0ZM512.40,708.28a6,6 0 1,0 12,0a6,6 0 1,0 -12,0ZM514.53,720.88a6,6 0 1,0 12,0a6,6 0 1,0 -12,0ZM516.67,740.28a6,6 0 1,0 12,0a6,6 0 1,0 -12,0ZM518.80,739.04a6,6 0 1,0 12,0a6,6 0 1,0 -12,0ZM520.93,730.12a6,6 0 1,0 12,0a6,6 0 1,0 -12,0ZM523.07,725.80a6,6 0 1,0 12,0a6,6 0 1,0 -12,0ZM525.20,703.20a6,6 0 1,0 12,0a6,6 0 1,0 -12,0ZM527.33,704.89a6,6 0 1,0 12,0a6,6 0 1,0 -12,0ZM529.47,709.80a6,6 0 1,0 12,0a6,6 0 1,0 -12,0ZM531.60,703.25a6,6 0 1,0 12,0a6,6 0 1,0 -12,0ZM533.73,697.61a6,6 0 1,0 12,0a6,6 0 1,0 -12,0ZM535.87,716.66a6,6 0 1,0 12,0a6,6 0 1,0 -12,0ZM538.00,580.26a6,6 0 1,0 12,0a6,6 0 1,0 -12,0ZM540.13,600.58a6,6 0 1,0 12,0a6,6 0 1,0 -12,0ZM542.27,534.54a6,6 0 1,0 12,0a6,6 0 1,0 -12,0ZM544.40,544.70a6,6 0 1,0 12,0a6,6 0 1,0 -12,0ZM546.53,559.94a6,6 0 1,0 12,0a6,6 0 1,0 -12,0ZM548.67,521.84a6,6 0 1,0 12,0a6,6 0 1,0 -12,0ZM550.80,477.39a6,6 0 1,0 12,0a6,6 0 1,0 -12,0ZM552.93,520.57a6,6 0 1,0 12,0a6,6 0 1,0 -12,0ZM555.07,544.70a6,6 0 1,0 12,0a6,6 0 1,0 -12,0ZM557.20,582.80a6,6 0 1,0 12,0a6,6 0 1,0 -12,0ZM559.33,641.22a6,6 0 1,0 12,0a6,6 0 1,0 -12,0ZM561.47,652.65a6,6 0 1,0 12,0a6,6 0 1,0 -12,0ZM563.60,525.14a6,6 0 1,0 12,0a6,6 0 1,0 -12,0ZM565.73,643.76a6,6 0 1,0 12,0a6,6 0 1,0 -12,0ZM567.87,633.60a6,6 0 1,0 12,0a6,6 0 1,0 -12,0ZM570.00,636.90a6,6 0 1,0 12,0a6,6 0 1,0 -12,0ZM572.13,659.00a6,6 0 1,0 12,0a6,6 0 1,0 -12,0ZM574.27,679.32a6,6 0 1,0 12,0a6,6 0 1,0 -12,0ZM576.40,671.70a6,6 0 1,0 12,0a6,6 0 1,0 -12,0ZM578.53,684.40a6,6 0 1,0 12,0a6,6 0 1,0 -12,0ZM580.67,672.46a6,6 0 1,0 12,0a6,6 0 1,0 -12,0ZM582.80,705.74a6,6 0 1,0 12,0a6,6 0 1,0 -12,0ZM584.93,700.96a6,6 0 1,0 12,0a6,6 0 1,0 -12,0ZM587.07,703.20a6,6 0 1,0 12,0a6,6 0 1,0 -12,0ZM589.20,699.77a6,6 0 1,0 12,0a6,6 0 1,0 -12,0ZM591.33,702.18a6,6 0 1,0 12,0a6,6 0 1,0 -12,0ZM593.47,701.39a6,6 0 1,0 12,0a6,6 0 1,0 -12,0ZM595.60,707.26a6,6 0 1,0 12,0a6,6 0 1,0 -12,0ZM597.73,704.84a6,6 0 1,0 12,0a6,6 0 1,0 -12,0ZM599.87,698.37a6,6 0 1,0 12,0a6,6 0 1,0 -12,0ZM602.00,709.80a6,6 0 1,0 12,0a6,6 0 1,0 -12,0ZM604.13,730.88a6,6 0 1,0 12,0a6,6 0 1,0 -12,0ZM606.27,723.66a6,6 0 1,0 12,0a6,6 0 1,0 -12,0ZM608.40,714.88a6,6 0 1,0 12,0a6,6 0 1,0 -12,0ZM610.53,718.71a6,6 0 1,0 12,0a6,6 0 1,0 -12,0ZM612.67,719.96a6,6 0 1,0 12,0a6,6 0 1,0 -12,0ZM614.80,735.20a6,6 0 1,0 12,0a6,6 0 1,0 -12,0ZM616.93,731.64a6,6 0 1,0 12,0a6,6 0 1,0 -12,0ZM619.07,750.69a6,6 0 1,0 12,0a6,6 0 1,0 -12,0ZM621.20,742.74a6,6 0 1,0 12,0a6,6 0 1,0 -12,0ZM623.33,741.80a6,6 0 1,0 12,0a6,6 0 1,0 -12,0ZM625.47,763.14a6,6 0 1,0 12,0a6,6 0 1,0 -12,0ZM627.60,757.68a6,6 0 1,0 12,0a6,6 0 1,0 -12,0ZM629.73,760.60a6,6 0 1,0 12,0a6,6 0 1,0 -12,0ZM631.87,756.54a6,6 0 1,0 12,0a6,6 0 1,0 -12,0ZM634.00,764.49a6,6 0 1,0 12,0a6,6 0 1,0 -12,0ZM636.13,778.38a6,6 0 1,0 12,0a6,6 0 1,0 -12,0ZM638.27,777.53a6,6 0 1,0 12,0a6,6 0 1,0 -12,0ZM640.40,770.76a6,6 0 1,0 12,0a6,6 0 1,0 -12,0ZM642.53,772.83a6,6 0 1,0 12,0a6,6 0 1,0 -12,0ZM644.67,770.00a6,6 0 1,0 12,0a6,6 0 1,0 -12,0ZM646.80,796.67a6,6 0 1,0 12,0a6,6 0 1,0 -12,0ZM648.93,794.15a6,6 0 1,0 12,0a6,6 0 1,0 -12,0ZM651.07,786.76a6,6 0 1,0 12,0a6,6 0 1,0 -12,0ZM653.20,798.45a6,6 0 1,0 12,0a6,6 0 1,0 -12,0ZM655.33,800.94a6,6 0 1,0 12,0a6,6 0 1,0 -12,0ZM657.47,806.32a6,6 0 1,0 12,0a6,6 0 1,0 -12,0ZM659.60,809.82a6,6 0 1,0 12,0a6,6 0 1,0 -12,0ZM661.73,814.96a6,6 0 1,0 12,0a6,6 0 1,0 -12,0ZM663.87,819.02a6,6 0 1,0 12,0a6,6 0 1,0 -12,0ZM666.00,592.96a6,6 0 1,0 12,0a6,6 0 1,0 -12,0ZM668.13,841.88a6,6 0 1,0 12,0a6,6 0 1,0 -12,0ZM670.27,824.10a6,6 0 1,0 12,0a6,6 0 1,0 -12,0ZM672.40,826.64a6,6 0 1,0 12,0a6,6 0 1,0 -12,0ZM674.53,839.62a6,6 0 1,0 12,0a6,6 0 1,0 -12,0ZM676.67,828.25a6,6 0 1,0 12,0a6,6 0 1,0 -12,0ZM678.80,843.99a6,6 0 1,0 12,0a6,6 0 1,0 -12,0ZM680.93,846.96a6,6 0 1,0 12,0a6,6 0 1,0 -12,0ZM683.07,845.85a6,6 0 1,0 12,0a6,6 0 1,0 -12,0ZM685.20,842.40a6,6 0 1,0 12,0a6,6 0 1,0 -12,0ZM687.33,838.77a6,6 0 1,0 12,0a6,6 0 1,0 -12,0ZM689.47,855.18a6,6 0 1,0 12,0a6,6 0 1,0 -12,0ZM691.60,855.52a6,6 0 1,0 12,0a6,6 0 1,0 -12,0ZM693.73,856.57a6,6 0 1,0 12,0a6,6 0 1,0 -12,0ZM695.87,868.04a6,6 0 1,0 12,0a6,6 0 1,0 -12,0ZM698.00,849.43a6,6 0 1,0 12,0a6,6 0 1,0 -12,0ZM700.13,861.63a6,6 0 1,0 12,0a6,6 0 1,0 -12,0ZM702.27,862.95a6,6 0 1,0 12,0a6,6 0 1,0 -12,0ZM704.40,866.78a6,6 0 1,0 12,0a6,6 0 1,0 -12,0ZM706.53,875.26a6,6 0 1,0 12,0a6,6 0 1,0 -12,0ZM708.67,865.18a6,6 0 1,0 12,0a6,6 0 1,0 -12,0ZM710.80,884.29a6,6 0 1,0 12,0a6,6 0 1,0 -12,0ZM712.93,879.46a6,6 0 1,0 12,0a6,6 0 1,0 -12,0ZM715.07,889.58a6,6 0 1,0 12,0a6,6 0 1,0 -12,0ZM717.20,891.88a6,6 0 1,0 12,0a6,6 0 1,0 -12,0ZM719.33,878.81a6,6 0 1,0 12,0a6,6 0 1,0 -12,0ZM721.47,895.39a6,6 0 1,0 12,0a6,6 0 1,0 -12,0ZM723.60,895.26a6,6 0 1,0 12,0a6,6 0 1,0 -12,0ZM725.73,900.95a6,6 0 1,0 12,0a6,6 0 1,0 -12,0ZM727.87,903.67a6,6 0 1,0 12,0a6,6 0 1,0 -12,0ZM730.00,890.78a6,6 0 1,0 12,0a6,6 0 1,0 -12,0ZM732.13,906.61a6,6 0 1,0 12,0a6,6 0 1,0 -12,0ZM734.27,905.65a6,6 0 1,0 12,0a6,6 0 1,0 -12,0ZM736.40,911.69a6,6 0 1,0 12,0a6,6 0 1,0 -12,0ZM738.53,904.26a6,6 0 1,0 12,0a6,6 0 1,0 -12,0ZM740.67,901.31a6,6 0 1,0 12,0a6,6 0 1,0 -12,0ZM742.80,916.70a6,6 0 1,0 12,0a6,6 0 1,0 -12,0ZM744.93,917.73a6,6 0 1,0 12,0a6,6 0 1,0 -12,0ZM747.07,918.88a6,6 0 1,0 12,0a6,6 0 1,0 -12,0ZM749.20,920.84a6,6 0 1,0 12,0a6,6 0 1,0 -12,0ZM751.33,914.10a6,6 0 1,0 12,0a6,6 0 1,0 -12,0ZM753.47,920.30a6,6 0 1,0 12,0a6,6 0 1,0 -12,0ZM755.60,921.12a6,6 0 1,0 12,0a6,6 0 1,0 -12,0ZM757.73,928.42a6,6 0 1,0 12,0a6,6 0 1,0 -12,0ZM759.87,930.40a6,6 0 1,0 12,0a6,6 0 1,0 -12,0ZM762.00,920.55a6,6 0 1,0 12,0a6,6 0 1,0 -12,0ZM764.13,928.85a6,6 0 1,0 12,0a6,6 0 1,0 -12,0ZM766.27,920.11a6,6 0 1,0 12,0a6,6 0 1,0 -12,0ZM768.40,934.19a6,6 0 1,0 12,0a6,6 0 1,0 -12,0ZM770.53,936.78a6,6 0 1,0 12,0a6,6 0 1,0 -12,0ZM772.67,928.68a6,6 0 1,0 12,0a6,6 0 1,0 -12,0ZM774.80,941.42a6,6 0 1,0 12,0a6,6 0 1,0 -12,0ZM776.93,944.48a6,6 0 1,0 12,0a6,6 0 1,0 -12,0ZM779.07,938.58a6,6 0 1,0 12,0a6,6 0 1,0 -12,0ZM781.20,944.05a6,6 0 1,0 12,0a6,6 0 1,0 -12,0ZM783.33,940.23a6,6 0 1,0 12,0a6,6 0 1,0 -12,0ZM785.47,946.04a6,6 0 1,0 12,0a6,6 0 1,0 -12,0ZM787.60,950.33a6,6 0 1,0 12,0a6,6 0 1,0 -12,0ZM789.73,946.49a6,6 0 1,0 12,0a6,6 0 1,0 -12,0ZM791.87,943.93a6,6 0 1,0 12,0a6,6 0 1,0 -12,0ZM794.00,925.95a6,6 0 1,0 12,0a6,6 0 1,0 -12,0ZM796.13,948.56a6,6 0 1,0 12,0a6,6 0 1,0 -12,0ZM798.27,947.19a6,6 0 1,0 12,0a6,6 0 1,0 -12,0ZM800.40,951.09a6,6 0 1,0 12,0a6,6 0 1,0 -12,0ZM802.53,954.40a6,6 0 1,0 12,0a6,6 0 1,0 -12,0ZM804.67,956.99a6,6 0 1,0 12,0a6,6 0 1,0 -12,0ZM806.80,957.30a6,6 0 1,0 12,0a6,6 0 1,0 -12,0ZM808.93,959.56a6,6 0 1,0 12,0a6,6 0 1,0 -12,0ZM811.07,953.96a6,6 0 1,0 12,0a6,6 0 1,0 -12,0ZM813.20,959.28a6,6 0 1,0 12,0a6,6 0 1,0 -12,0ZM815.33,958.83a6,6 0 1,0 12,0a6,6 0 1,0 -12,0ZM817.47,962.51a6,6 0 1,0 12,0a6,6 0 1,0 -12,0ZM819.60,962.53a6,6 0 1,0 12,0a6,6 0 1,0 -12,0ZM821.73,964.95a6,6 0 1,0 12,0a6,6 0 1,0 -12,0ZM823.87,959.67a6,6 0 1,0 12,0a6,6 0 1,0 -12,0ZM826.00,962.47a6,6 0 1,0 12,0a6,6 0 1,0 -12,0ZM828.13,964.08a6,6 0 1,0 12,0a6,6 0 1,0 -12,0ZM830.27,965.22a6,6 0 1,0 12,0a6,6 0 1,0 -12,0ZM832.40,966.04a6,6 0 1,0 12,0a6,6 0 1,0 -12,0ZM834.53,967.33a6,6 0 1,0 12,0a6,6 0 1,0 -12,0ZM836.67,969.39a6,6 0 1,0 12,0a6,6 0 1,0 -12,0ZM838.80,971.47a6,6 0 1,0 12,0a6,6 0 1,0 -12,0ZM840.93,966.82a6,6 0 1,0 12,0a6,6 0 1,0 -12,0ZM843.07,972.34a6,6 0 1,0 12,0a6,6 0 1,0 -12,0ZM845.20,974.58a6,6 0 1,0 12,0a6,6 0 1,0 -12,0ZM847.33,975.30a6,6 0 1,0 12,0a6,6 0 1,0 -12,0ZM849.47,974.92a6,6 0 1,0 12,0a6,6 0 1,0 -12,0ZM851.60,971.18a6,6 0 1,0 12,0a6,6 0 1,0 -12,0ZM853.73,974.68a6,6 0 1,0 12,0a6,6 0 1,0 -12,0ZM855.87,976.25a6,6 0 1,0 12,0a6,6 0 1,0 -12,0ZM858.00,975.11a6,6 0 1,0 12,0a6,6 0 1,0 -12,0ZM860.13,977.85a6,6 0 1,0 12,0a6,6 0 1,0 -12,0ZM862.27,974.00a6,6 0 1,0 12,0a6,6 0 1,0 -12,0ZM864.40,977.21a6,6 0 1,0 12,0a6,6 0 1,0 -12,0ZM866.53,978.07a6,6 0 1,0 12,0a6,6 0 1,0 -12,0ZM868.67,980.92a6,6 0 1,0 12,0a6,6 0 1,0 -12,0ZM870.80,982.12a6,6 0 1,0 12,0a6,6 0 1,0 -12,0ZM872.93,981.83a6,6 0 1,0 12,0a6,6 0 1,0 -12,0ZM875.07,983.44a6,6 0 1,0 12,0a6,6 0 1,0 -12,0ZM877.20,984.22a6,6 0 1,0 12,0a6,6 0 1,0 -12,0ZM879.33,984.87a6,6 0 1,0 12,0a6,6 0 1,0 -12,0ZM881.47,981.14a6,6 0 1,0 12,0a6,6 0 1,0 -12,0ZM883.60,984.12a6,6 0 1,0 12,0a6,6 0 1,0 -12,0ZM885.73,985.03a6,6 0 1,0 12,0a6,6 0 1,0 -12,0ZM887.87,986.78a6,6 0 1,0 12,0a6,6 0 1,0 -12,0ZM890.00,987.42a6,6 0 1,0 12,0a6,6 0 1,0 -12,0ZM892.13,984.51a6,6 0 1,0 12,0a6,6 0 1,0 -12,0ZM894.27,987.44a6,6 0 1,0 12,0a6,6 0 1,0 -12,0ZM896.40,989.72a6,6 0 1,0 12,0a6,6 0 1,0 -12,0ZM898.53,988.64a6,6 0 1,0 12,0a6,6 0 1,0 -12,0ZM900.67,988.41a6,6 0 1,0 12,0a6,6 0 1,0 -12,0ZM902.80,989.14a6,6 0 1,0 12,0a6,6 0 1,0 -12,0ZM904.93,989.63a6,6 0 1,0 12,0a6,6 0 1,0 -12,0ZM907.07,987.74a6,6 0 1,0 12,0a6,6 0 1,0 -12,0ZM909.20,991.90a6,6 0 1,0 12,0a6,6 0 1,0 -12,0ZM911.33,991.49a6,6 0 1,0 12,0a6,6 0 1,0 -12,0ZM913.47,991.13a6,6 0 1,0 12,0a6,6 0 1,0 -12,0ZM915.60,992.67a6,6 0 1,0 12,0a6,6 0 1,0 -12,0ZM917.73,991.86a6,6 0 1,0 12,0a6,6 0 1,0 -12,0ZM919.87,993.01a6,6 0 1,0 12,0a6,6 0 1,0 -12,0ZM922.00,978.28a6,6 0 1,0 12,0a6,6 0 1,0 -12,0ZM924.13,994.28a6,6 0 1,0 12,0a6,6 0 1,0 -12,0ZM926.27,991.32a6,6 0 1,0 12,0a6,6 0 1,0 -12,0ZM928.40,995.11a6,6 0 1,0 12,0a6,6 0 1,0 -12,0ZM930.53,995.38a6,6 0 1,0 12,0a6,6 0 1,0 -12,0ZM932.67,994.27a6,6 0 1,0 12,0a6,6 0 1,0 -12,0ZM934.80,995.12a6,6 0 1,0 12,0a6,6 0 1,0 -12,0ZM936.93,993.68a6,6 0 1,0 12,0a6,6 0 1,0 -12,0ZM939.07,997.20a6,6 0 1,0 12,0a6,6 0 1,0 -12,0ZM941.20,997.42a6,6 0 1,0 12,0a6,6 0 1,0 -12,0ZM943.33,996.82a6,6 0 1,0 12,0a6,6 0 1,0 -12,0ZM945.47,996.05a6,6 0 1,0 12,0a6,6 0 1,0 -12,0ZM947.60,996.55a6,6 0 1,0 12,0a6,6 0 1,0 -12,0ZM949.73,998.48a6,6 0 1,0 12,0a6,6 0 1,0 -12,0ZM951.87,997.01a6,6 0 1,0 12,0a6,6 0 1,0 -12,0ZM954.00,998.09a6,6 0 1,0 12,0a6,6 0 1,0 -12,0ZM956.13,995.26a6,6 0 1,0 12,0a6,6 0 1,0 -12,0ZM958.27,998.01a6,6 0 1,0 12,0a6,6 0 1,0 -12,0ZM960.40,998.95a6,6 0 1,0 12,0a6,6 0 1,0 -12,0ZM962.53,998.60a6,6 0 1,0 12,0a6,6 0 1,0 -12,0ZM964.67,999.82a6,6 0 1,0 12,0a6,6 0 1,0 -12,0ZM966.80,1000.28a6,6 0 1,0 12,0a6,6 0 1,0 -12,0ZM968.93,996.29a6,6 0 1,0 12,0a6,6 0 1,0 -12,0ZM971.07,999.36a6,6 0 1,0 12,0a6,6 0 1,0 -12,0ZM973.20,991.49a6,6 0 1,0 12,0a6,6 0 1,0 -12,0ZM975.33,1000.63a6,6 0 1,0 12,0a6,6 0 1,0 -12,0ZM977.47,1000.45a6,6 0 1,0 12,0a6,6 0 1,0 -12,0ZM979.60,998.67a6,6 0 1,0 12,0a6,6 0 1,0 -12,0ZM981.73,1000.14a6,6 0 1,0 12,0a6,6 0 1,0 -12,0ZM983.87,1001.61a6,6 0 1,0 12,0a6,6 0 1,0 -12,0ZM986.00,1001.65a6,6 0 1,0 12,0a6,6 0 1,0 -12,0ZM988.13,1001.16a6,6 0 1,0 12,0a6,6 0 1,0 -12,0ZM990.27,1000.02a6,6 0 1,0 12,0a6,6 0 1,0 -12,0ZM992.40,1003.75a6,6 0 1,0 12,0a6,6 0 1,0 -12,0ZM994.53,1004.11a6,6 0 1,0 12,0a6,6 0 1,0 -12,0ZM996.67,1004.46a6,6 0 1,0 12,0a6,6 0 1,0 -12,0ZM998.80,1005.05a6,6 0 1,0 12,0a6,6 0 1,0 -12,0ZM1000.93,1004.63a6,6 0 1,0 12,0a6,6 0 1,0 -12,0ZM1003.07,1005.91a6,6 0 1,0 12,0a6,6 0 1,0 -12,0ZM1005.20,1005.97a6,6 0 1,0 12,0a6,6 0 1,0 -12,0ZM1007.33,1006.22a6,6 0 1,0 12,0a6,6 0 1,0 -12,0ZM1009.47,1007.31a6,6 0 1,0 12,0a6,6 0 1,0 -12,0ZM1011.60,1005.48a6,6 0 1,0 12,0a6,6 0 1,0 -12,0ZM1013.73,1007.05a6,6 0 1,0 12,0a6,6 0 1,0 -12,0ZM1015.87,1006.93a6,6 0 1,0 12,0a6,6 0 1,0 -12,0ZM1018.00,1006.77a6,6 0 1,0 12,0a6,6 0 1,0 -12,0ZM1020.13,1006.11a6,6 0 1,0 12,0a6,6 0 1,0 -12,0ZM1022.27,1007.49a6,6 0 1,0 12,0a6,6 0 1,0 -12,0ZM1024.40,1005.16a6,6 0 1,0 12,0a6,6 0 1,0 -12,0ZM1026.53,1007.59a6,6 0 1,0 12,0a6,6 0 1,0 -12,0ZM1028.67,1007.74a6,6 0 1,0 12,0a6,6 0 1,0 -12,0ZM1030.80,1007.86a6,6 0 1,0 12,0a6,6 0 1,0 -12,0ZM1032.93,1008.08a6,6 0 1,0 12,0a6,6 0 1,0 -12,0ZM1035.07,1006.80a6,6 0 1,0 12,0a6,6 0 1,0 -12,0ZM1037.20,1008.68a6,6 0 1,0 12,0a6,6 0 1,0 -12,0ZM1039.33,1009.53a6,6 0 1,0 12,0a6,6 0 1,0 -12,0ZM1041.47,1010.19a6,6 0 1,0 12,0a6,6 0 1,0 -12,0ZM1043.60,1008.36a6,6 0 1,0 12,0a6,6 0 1,0 -12,0ZM1045.73,1010.15a6,6 0 1,0 12,0a6,6 0 1,0 -12,0ZM1047.87,1009.52a6,6 0 1,0 12,0a6,6 0 1,0 -12,0ZM1050.00,1002.92a6,6 0 1,0 12,0a6,6 0 1,0 -12,0ZM1052.13,1010.79a6,6 0 1,0 12,0a6,6 0 1,0 -12,0ZM1054.27,1011.30a6,6 0 1,0 12,0a6,6 0 1,0 -12,0ZM1056.40,1011.11a6,6 0 1,0 12,0a6,6 0 1,0 -12,0ZM1058.53,1010.41a6,6 0 1,0 12,0a6,6 0 1,0 -12,0ZM1060.67,1012.57a6,6 0 1,0 12,0a6,6 0 1,0 -12,0ZM1062.80,1013.29a6,6 0 1,0 12,0a6,6 0 1,0 -12,0ZM1064.93,1013.08a6,6 0 1,0 12,0a6,6 0 1,0 -12,0ZM1067.07,1013.26a6,6 0 1,0 12,0a6,6 0 1,0 -12,0ZM1069.20,1012.95a6,6 0 1,0 12,0a6,6 0 1,0 -12,0ZM1071.33,1014.95a6,6 0 1,0 12,0a6,6 0 1,0 -12,0ZM1073.47,1014.08a6,6 0 1,0 12,0a6,6 0 1,0 -12,0ZM1075.60,1015.15a6,6 0 1,0 12,0a6,6 0 1,0 -12,0ZM1077.73,1013.41a6,6 0 1,0 12,0a6,6 0 1,0 -12,0ZM1079.87,1014.37a6,6 0 1,0 12,0a6,6 0 1,0 -12,0ZM1082.00,1015.32a6,6 0 1,0 12,0a6,6 0 1,0 -12,0ZM1084.13,1015.62a6,6 0 1,0 12,0a6,6 0 1,0 -12,0ZM1086.27,1015.66a6,6 0 1,0 12,0a6,6 0 1,0 -12,0ZM1088.40,1015.36a6,6 0 1,0 12,0a6,6 0 1,0 -12,0ZM1090.53,1015.18a6,6 0 1,0 12,0a6,6 0 1,0 -12,0ZM1092.67,1016.57a6,6 0 1,0 12,0a6,6 0 1,0 -12,0ZM1094.80,1015.17a6,6 0 1,0 12,0a6,6 0 1,0 -12,0ZM1096.93,1016.82a6,6 0 1,0 12,0a6,6 0 1,0 -12,0ZM1099.07,1017.01a6,6 0 1,0 12,0a6,6 0 1,0 -12,0ZM1101.20,1016.75a6,6 0 1,0 12,0a6,6 0 1,0 -12,0ZM1103.33,1017.57a6,6 0 1,0 12,0a6,6 0 1,0 -12,0ZM1105.47,1016.29a6,6 0 1,0 12,0a6,6 0 1,0 -12,0ZM1107.60,1017.91a6,6 0 1,0 12,0a6,6 0 1,0 -12,0ZM1109.73,1016.93a6,6 0 1,0 12,0a6,6 0 1,0 -12,0ZM1111.87,1017.75a6,6 0 1,0 12,0a6,6 0 1,0 -12,0ZM1114.00,1017.50a6,6 0 1,0 12,0a6,6 0 1,0 -12,0ZM1116.13,1018.66a6,6 0 1,0 12,0a6,6 0 1,0 -12,0ZM1118.27,1017.78a6,6 0 1,0 12,0a6,6 0 1,0 -12,0ZM1120.40,1019.75a6,6 0 1,0 12,0a6,6 0 1,0 -12,0ZM1122.53,1019.22a6,6 0 1,0 12,0a6,6 0 1,0 -12,0ZM1124.67,1018.17a6,6 0 1,0 12,0a6,6 0 1,0 -12,0ZM1126.80,1018.98a6,6 0 1,0 12,0a6,6 0 1,0 -12,0ZM1128.93,1021.00a6,6 0 1,0 12,0a6,6 0 1,0 -12,0ZM1131.07,1021.28a6,6 0 1,0 12,0a6,6 0 1,0 -12,0ZM1133.20,1020.70a6,6 0 1,0 12,0a6,6 0 1,0 -12,0ZM1135.33,1019.83a6,6 0 1,0 12,0a6,6 0 1,0 -12,0ZM1137.47,1021.68a6,6 0 1,0 12,0a6,6 0 1,0 -12,0ZM1139.60,1022.34a6,6 0 1,0 12,0a6,6 0 1,0 -12,0ZM1141.73,1021.06a6,6 0 1,0 12,0a6,6 0 1,0 -12,0ZM1143.87,1021.01a6,6 0 1,0 12,0a6,6 0 1,0 -12,0ZM1146.00,1021.97a6,6 0 1,0 12,0a6,6 0 1,0 -12,0ZM1148.13,1021.03a6,6 0 1,0 12,0a6,6 0 1,0 -12,0ZM1150.27,1023.44a6,6 0 1,0 12,0a6,6 0 1,0 -12,0ZM1152.40,1022.32a6,6 0 1,0 12,0a6,6 0 1,0 -12,0ZM1154.53,1022.76a6,6 0 1,0 12,0a6,6 0 1,0 -12,0ZM1156.67,1024.37a6,6 0 1,0 12,0a6,6 0 1,0 -12,0ZM1158.80,1022.79a6,6 0 1,0 12,0a6,6 0 1,0 -12,0ZM1160.93,1022.88a6,6 0 1,0 12,0a6,6 0 1,0 -12,0ZM1163.07,1025.08a6,6 0 1,0 12,0a6,6 0 1,0 -12,0ZM1165.20,1023.52a6,6 0 1,0 12,0a6,6 0 1,0 -12,0ZM1167.33,1023.99a6,6 0 1,0 12,0a6,6 0 1,0 -12,0ZM1169.47,1025.27a6,6 0 1,0 12,0a6,6 0 1,0 -12,0ZM1171.60,1025.55a6,6 0 1,0 12,0a6,6 0 1,0 -12,0ZM1173.73,1024.53a6,6 0 1,0 12,0a6,6 0 1,0 -12,0ZM1175.87,1026.03a6,6 0 1,0 12,0a6,6 0 1,0 -12,0ZM1178.00,1012.57a6,6 0 1,0 12,0a6,6 0 1,0 -12,0ZM1180.13,1026.03a6,6 0 1,0 12,0a6,6 0 1,0 -12,0ZM1182.27,1025.27a6,6 0 1,0 12,0a6,6 0 1,0 -12,0ZM1184.40,1027.06a6,6 0 1,0 12,0a6,6 0 1,0 -12,0ZM1186.53,1026.46a6,6 0 1,0 12,0a6,6 0 1,0 -12,0ZM1188.67,1026.33a6,6 0 1,0 12,0a6,6 0 1,0 -12,0ZM1190.80,1026.86a6,6 0 1,0 12,0a6,6 0 1,0 -12,0ZM1192.93,1026.54a6,6 0 1,0 12,0a6,6 0 1,0 -12,0ZM1195.07,1027.41a6,6 0 1,0 12,0a6,6 0 1,0 -12,0ZM1197.20,1025.79a6,6 0 1,0 12,0a6,6 0 1,0 -12,0ZM1199.33,1026.26a6,6 0 1,0 12,0a6,6 0 1,0 -12,0ZM1201.47,1028.14a6,6 0 1,0 12,0a6,6 0 1,0 -12,0ZM1203.60,1026.88a6,6 0 1,0 12,0a6,6 0 1,0 -12,0ZM1205.73,1027.26a6,6 0 1,0 12,0a6,6 0 1,0 -12,0ZM1207.87,1028.43a6,6 0 1,0 12,0a6,6 0 1,0 -12,0ZM1210.00,1027.30a6,6 0 1,0 12,0a6,6 0 1,0 -12,0ZM1212.13,1027.86a6,6 0 1,0 12,0a6,6 0 1,0 -12,0ZM1214.27,1027.51a6,6 0 1,0 12,0a6,6 0 1,0 -12,0ZM1216.40,1026.96a6,6 0 1,0 12,0a6,6 0 1,0 -12,0ZM1218.53,1029.04a6,6 0 1,0 12,0a6,6 0 1,0 -12,0ZM1220.67,1027.55a6,6 0 1,0 12,0a6,6 0 1,0 -12,0ZM1222.80,1028.15a6,6 0 1,0 12,0a6,6 0 1,0 -12,0ZM1224.93,1028.06a6,6 0 1,0 12,0a6,6 0 1,0 -12,0ZM1227.07,1029.82a6,6 0 1,0 12,0a6,6 0 1,0 -12,0ZM1229.20,1029.76a6,6 0 1,0 12,0a6,6 0 1,0 -12,0ZM1231.33,1029.59a6,6 0 1,0 12,0a6,6 0 1,0 -12,0ZM1233.47,1028.88a6,6 0 1,0 12,0a6,6 0 1,0 -12,0ZM1235.60,1029.37a6,6 0 1,0 12,0a6,6 0 1,0 -12,0ZM1237.73,1030.32a6,6 0 1,0 12,0a6,6 0 1,0 -12,0ZM1239.87,1030.66a6,6 0 1,0 12,0a6,6 0 1,0 -12,0ZM1242.00,1030.31a6,6 0 1,0 12,0a6,6 0 1,0 -12,0ZM1244.13,1029.13a6,6 0 1,0 12,0a6,6 0 1,0 -12,0ZM1246.27,1029.94a6,6 0 1,0 12,0a6,6 0 1,0 -12,0ZM1248.40,1030.92a6,6 0 1,0 12,0a6,6 0 1,0 -12,0ZM1250.53,1031.20a6,6 0 1,0 12,0a6,6 0 1,0 -12,0ZM1252.67,1030.17a6,6 0 1,0 12,0a6,6 0 1,0 -12,0ZM1254.80,1030.81a6,6 0 1,0 12,0a6,6 0 1,0 -12,0ZM1256.93,1029.94a6,6 0 1,0 12,0a6,6 0 1,0 -12,0ZM1259.07,1031.74a6,6 0 1,0 12,0a6,6 0 1,0 -12,0ZM1261.20,1031.89a6,6 0 1,0 12,0a6,6 0 1,0 -12,0ZM1263.33,1031.14a6,6 0 1,0 12,0a6,6 0 1,0 -12,0ZM1265.47,1031.62a6,6 0 1,0 12,0a6,6 0 1,0 -12,0ZM1267.60,1030.79a6,6 0 1,0 12,0a6,6 0 1,0 -12,0ZM1269.73,1031.18a6,6 0 1,0 12,0a6,6 0 1,0 -12,0ZM1271.87,1031.70a6,6 0 1,0 12,0a6,6 0 1,0 -12,0ZM1274.00,1032.00a6,6 0 1,0 12,0a6,6 0 1,0 -12,0ZM1276.13,1031.67a6,6 0 1,0 12,0a6,6 0 1,0 -12,0ZM1278.27,1032.63a6,6 0 1,0 12,0a6,6 0 1,0 -12,0ZM1280.40,1031.71a6,6 0 1,0 12,0a6,6 0 1,0 -12,0ZM1282.53,1032.75a6,6 0 1,0 12,0a6,6 0 1,0 -12,0ZM1284.67,1031.81a6,6 0 1,0 12,0a6,6 0 1,0 -12,0ZM1286.80,1031.32a6,6 0 1,0 12,0a6,6 0 1,0 -12,0ZM1288.93,1032.57a6,6 0 1,0 12,0a6,6 0 1,0 -12,0ZM1291.07,1032.36a6,6 0 1,0 12,0a6,6 0 1,0 -12,0ZM1293.20,1031.96a6,6 0 1,0 12,0a6,6 0 1,0 -12,0ZM1295.33,1032.81a6,6 0 1,0 12,0a6,6 0 1,0 -12,0ZM1297.47,1033.02a6,6 0 1,0 12,0a6,6 0 1,0 -12,0ZM1299.60,1032.63a6,6 0 1,0 12,0a6,6 0 1,0 -12,0ZM1301.73,1032.39a6,6 0 1,0 12,0a6,6 0 1,0 -12,0ZM1303.87,1032.54a6,6 0 1,0 12,0a6,6 0 1,0 -12,0ZM1306.00,1032.00a6,6 0 1,0 12,0a6,6 0 1,0 -12,0ZM1308.13,1032.86a6,6 0 1,0 12,0a6,6 0 1,0 -12,0ZM1310.27,1033.15a6,6 0 1,0 12,0a6,6 0 1,0 -12,0ZM1312.40,1033.14a6,6 0 1,0 12,0a6,6 0 1,0 -12,0ZM1314.53,1032.48a6,6 0 1,0 12,0a6,6 0 1,0 -12,0ZM1316.67,1033.80a6,6 0 1,0 12,0a6,6 0 1,0 -12,0ZM1318.80,1033.85a6,6 0 1,0 12,0a6,6 0 1,0 -12,0ZM1320.93,1034.03a6,6 0 1,0 12,0a6,6 0 1,0 -12,0ZM1323.07,1034.01a6,6 0 1,0 12,0a6,6 0 1,0 -12,0ZM1325.20,1033.79a6,6 0 1,0 12,0a6,6 0 1,0 -12,0ZM1327.33,1034.27a6,6 0 1,0 12,0a6,6 0 1,0 -12,0ZM1329.47,1034.10a6,6 0 1,0 12,0a6,6 0 1,0 -12,0ZM1331.60,1033.25a6,6 0 1,0 12,0a6,6 0 1,0 -12,0ZM1333.73,1034.31a6,6 0 1,0 12,0a6,6 0 1,0 -12,0ZM1335.87,1034.65a6,6 0 1,0 12,0a6,6 0 1,0 -12,0ZM1338.00,1034.47a6,6 0 1,0 12,0a6,6 0 1,0 -12,0ZM1340.13,1034.71a6,6 0 1,0 12,0a6,6 0 1,0 -12,0ZM1342.27,1034.09a6,6 0 1,0 12,0a6,6 0 1,0 -12,0ZM1344.40,1033.30a6,6 0 1,0 12,0a6,6 0 1,0 -12,0ZM1346.53,1034.65a6,6 0 1,0 12,0a6,6 0 1,0 -12,0ZM1348.67,1034.42a6,6 0 1,0 12,0a6,6 0 1,0 -12,0ZM1350.80,1034.04a6,6 0 1,0 12,0a6,6 0 1,0 -12,0ZM1352.93,1034.81a6,6 0 1,0 12,0a6,6 0 1,0 -12,0ZM1355.07,1034.22a6,6 0 1,0 12,0a6,6 0 1,0 -12,0ZM1357.20,1034.59a6,6 0 1,0 12,0a6,6 0 1,0 -12,0ZM1359.33,1034.57a6,6 0 1,0 12,0a6,6 0 1,0 -12,0ZM1361.47,1034.31a6,6 0 1,0 12,0a6,6 0 1,0 -12,0ZM1363.60,1033.66a6,6 0 1,0 12,0a6,6 0 1,0 -12,0ZM1365.73,1034.66a6,6 0 1,0 12,0a6,6 0 1,0 -12,0ZM1367.87,1034.54a6,6 0 1,0 12,0a6,6 0 1,0 -12,0ZM1370.00,1034.32a6,6 0 1,0 12,0a6,6 0 1,0 -12,0ZM1372.13,1034.89a6,6 0 1,0 12,0a6,6 0 1,0 -12,0ZM1374.27,1034.79a6,6 0 1,0 12,0a6,6 0 1,0 -12,0ZM1376.40,1034.53a6,6 0 1,0 12,0a6,6 0 1,0 -12,0ZM1378.53,1034.65a6,6 0 1,0 12,0a6,6 0 1,0 -12,0ZM1380.67,1034.73a6,6 0 1,0 12,0a6,6 0 1,0 -12,0ZM1382.80,1034.94a6,6 0 1,0 12,0a6,6 0 1,0 -12,0ZM1384.93,1035.00a6,6 0 1,0 12,0a6,6 0 1,0 -12,0ZM1387.07,1035.26a6,6 0 1,0 12,0a6,6 0 1,0 -12,0ZM1389.20,1035.21a6,6 0 1,0 12,0a6,6 0 1,0 -12,0ZM1391.33,1035.27a6,6 0 1,0 12,0a6,6 0 1,0 -12,0ZM1393.47,1033.83a6,6 0 1,0 12,0a6,6 0 1,0 -12,0ZM1395.60,1035.16a6,6 0 1,0 12,0a6,6 0 1,0 -12,0ZM1397.73,1035.25a6,6 0 1,0 12,0a6,6 0 1,0 -12,0ZM1399.87,1035.32a6,6 0 1,0 12,0a6,6 0 1,0 -12,0ZM1402.00,1034.74a6,6 0 1,0 12,0a6,6 0 1,0 -12,0ZM1404.13,1034.73a6,6 0 1,0 12,0a6,6 0 1,0 -12,0ZM1406.27,1034.91a6,6 0 1,0 12,0a6,6 0 1,0 -12,0ZM1408.40,1034.13a6,6 0 1,0 12,0a6,6 0 1,0 -12,0ZM1410.53,1035.28a6,6 0 1,0 12,0a6,6 0 1,0 -12,0ZM1412.67,1035.25a6,6 0 1,0 12,0a6,6 0 1,0 -12,0ZM1414.80,1035.14a6,6 0 1,0 12,0a6,6 0 1,0 -12,0ZM1416.93,1035.39a6,6 0 1,0 12,0a6,6 0 1,0 -12,0ZM1419.07,1035.18a6,6 0 1,0 12,0a6,6 0 1,0 -12,0ZM1421.20,1035.34a6,6 0 1,0 12,0a6,6 0 1,0 -12,0ZM1423.33,1035.17a6,6 0 1,0 12,0a6,6 0 1,0 -12,0ZM1425.47,1034.82a6,6 0 1,0 12,0a6,6 0 1,0 -12,0ZM1427.60,1034.81a6,6 0 1,0 12,0a6,6 0 1,0 -12,0ZM1429.73,1035.14a6,6 0 1,0 12,0a6,6 0 1,0 -12,0ZM1431.87,1035.17a6,6 0 1,0 12,0a6,6 0 1,0 -12,0ZM1434.00,249.04a6,6 0 1,0 12,0a6,6 0 1,0 -12,0Z" fill="#1db954"/>
</g>
<text x="157.8" y="1048.8" text-anchor="end" class="t">0</text>
<text x="157.8" y="921.8" text-anchor="end" class="t">0.5M</text>
<text x="157.8" y="794.8" text-anchor="end" class="t">1M</text>
<text x="157.8" y="667.8" text-anchor="end" class="t">1.5M</text>
<text x="157.8" y="540.8" text-anchor="end" class="t">2M</text>
<text x="157.8" y="413.8" text-anchor="end" class="t">2.5M</text>
<text x="157.8" y="286.8" text-anchor="end" class="t">3M</text>
<text transform="translate(162.6,1056.5) rotate(-45)" text-anchor="end" class="t" dy="0.35em">0:00</text>
<text transform="translate(226.6,1056.5) rotate(-45)" text-anchor="end" class="t" dy="0.35em">0:30</text>
<text transform="translate(290.6,1056.5) rotate(-45)" text-anchor="end" class="t" dy="0.35em">1:00</text>
<text transform="translate(354.6,1056.5) rotate(-45)" text-anchor="end" class="t" dy="0.35em">1:30</text>
<text transform="translate(418.6,1056.5) rotate(-45)" text-anchor="end" class="t" dy="0.35em">2:00</text>
<text transform="translate(482.6,1056.5) rotate(-45)" text-anchor="end" class="t" dy="0.35em">2:30</text>
<text transform="translate(546.6,1056.5) rotate(-45)" text-anchor="end" class="t" dy="0.35em">3:00</text>
<text transform="translate(610.6,1056.5) rotate(-45)" text-anchor="end" class="t" dy="0.35em">3:30</text>
<text transform="translate(674.6,1056.5) rotate(-45)" text-anchor="end" class="t" dy="0.35em">4:00</text>
<text transform="translate(738.6,1056.5) rotate(-45)" text-anchor="end" class="t" dy="0.35em">4:30</text>
<text transform="translate(802.6,1056.5) rotate(-45)" text-anchor="end" class="t" dy="0.35em">5:00</text>
<text transform="translate(866.6,1056.5) rotate(-45)" text-anchor="end" class="t" dy="0.35em">5:30</text>
<text transform="translate(930.6,1056.5) rotate(-45)" text-anchor="end" class="t" dy="0.35em">6:00</text>
<text transform="translate(994.6,1056.5) rotate(-45)" text-anchor="end" class="t" dy="0.35em">6:30</text>
<text transform="translate(1058.6,1056.5) rotate(-45)" text-anchor="end" class="t" dy="0.35em">7:00</text>
<text transform="translate(1122.6,1056.5) rotate(-45)" text-anchor="end" class="t" dy="0.35em">7:30</text>
<text transform="translate(1186.6,1056.5) rotate(-45)" text-anchor="end" class="t" dy="0.35em">8:00</text>
<text transform="translate(1250.6,1056.5) rotate(-45)" text-anchor="end" class="t" dy="0.35em">8:30</text>
<text transform="translate(1314.6,1056.5) rotate(-45)" text-anchor="end" class="t" dy="0.35em">9:00</text>
<text transform="translate(1378.6,1056.5) rotate(-45)" text-anchor="end" class="t" dy="0.35em">9:30</text>
<text transform="translate(1442.6,1056.5) rotate(-45)" text-anchor="end" class="t" dy="0.35em">≥10:00</text>
<text x="800" y="1167" text-anchor="middle" class="a">Duration (hh:mm:ss)</text>
<text transform="translate(67,620) rotate(-90)" text-anchor="middle" class="a">Number of Songs</text>
<text x="608.4" y="100" class="ti">Tracks by Duration</text>
<g><rect x="554.3" y="50" width="8.7" height="7" rx="1.5" fill="#b0bec5"/><rect x="555.6" y="51" width="1.6" height="4.5" fill="#eceff1"/><rect x="556.3" y="56" width="4.8" height="4" fill="#78909c"/><g transform="rotate(45 580.8 64.3)"><rect x="576.8" y="59.6" width="8" height="6" rx="1.2" fill="#b0bec5"/><rect x="578.6" y="64.8" width="4.4" height="3.5" fill="#78909c"/><rect x="578" y="60.4" width="1.4" height="3.5" fill="#eceff1"/></g><circle cx="559" cy="85.6" r="26" fill="#b0bec5"/><path d="M536.5,94 A24.3,24.3 0 0 1 553,61.9" stroke="#cfd8dc" stroke-width="2.6" fill="none" stroke-linecap="round"/><circle cx="559" cy="85.6" r="21.3" fill="#f8f8f8"/><path d="M567.10,71.57L568.45,69.23M573.03,77.50L575.37,76.15M575.20,85.60L577.90,85.60M573.03,93.70L575.37,95.05M567.10,99.63L568.45,101.97M559.00,101.80L559.00,104.50M550.90,99.63L549.55,101.97M544.97,93.70L542.63,95.05M542.80,85.60L540.10,85.60M544.97,77.50L542.63,76.15M550.90,71.57L549.55,69.23" stroke="#c6a184" stroke-width="1.9" stroke-linecap="round" fill="none"/><circle cx="559" cy="76.7" r="4.8" fill="#d4e6f1"/><path d="M558.2,66.5 L559.8,66.5 L560.3,85 L557.7,85Z" fill="#4e342e"/><circle cx="559" cy="85.4" r="2.3" fill="#4e342e"/></g>
</svg></body></html>
